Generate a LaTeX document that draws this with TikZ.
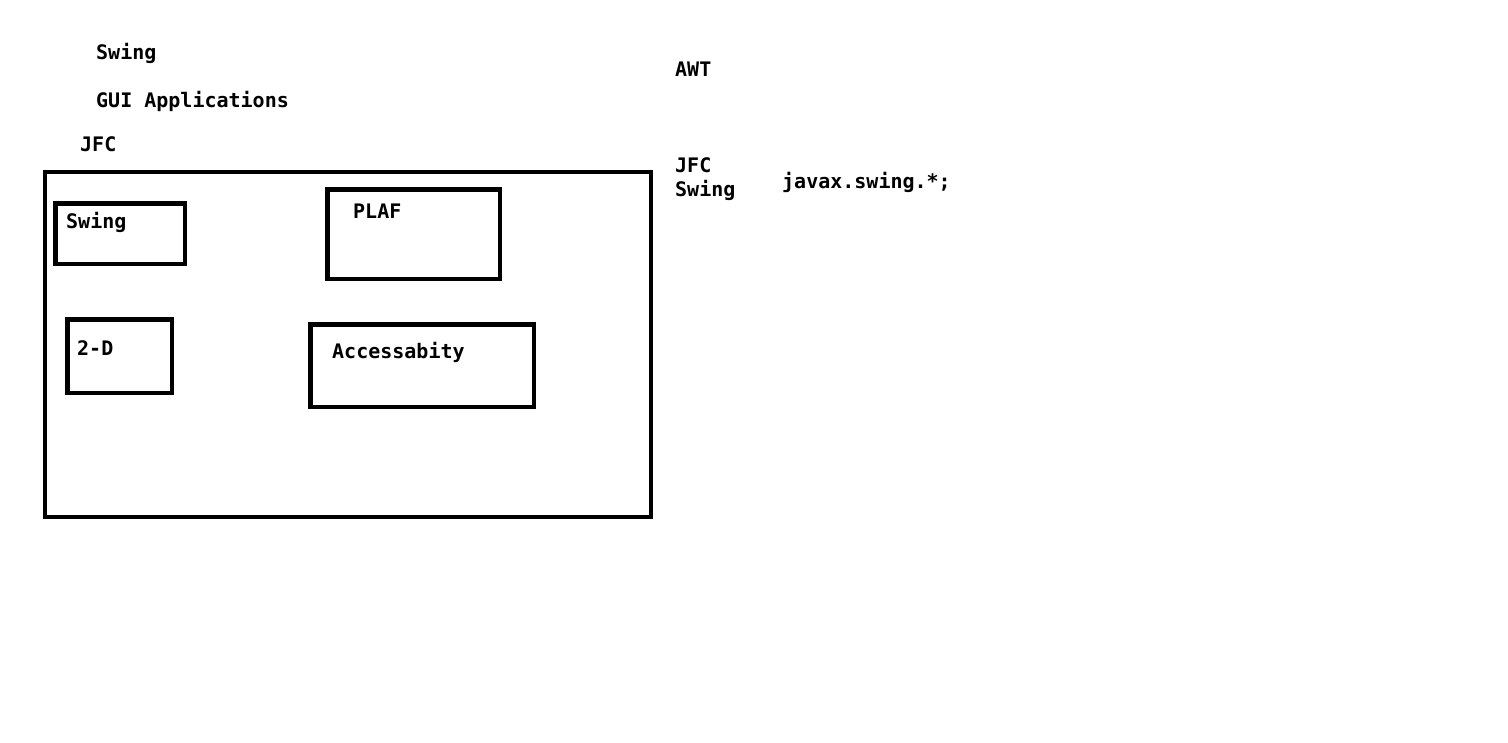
\documentclass[tikz,border=0pt]{standalone}
\usepackage{fontspec}
\setmonofont{DejaVu Sans Mono}
\begin{document}
\begin{tikzpicture}[x=1pt,y=-1pt,
  txt/.style={anchor=base west,inner sep=0pt,font=\ttfamily\bfseries\fontsize{20}{23}\selectfont},
  frame/.style={draw,line width=4.5pt,inner sep=0pt,outer sep=0pt,anchor=north west}]
\useasboundingbox[fill=white] (0,0) rectangle (1508,742);
% boxes
\node[frame,minimum width=606pt,minimum height=345pt] (outer) at (45,172) {};
\node[frame,minimum width=129.5pt,minimum height=60.5pt] (bswing) at (55.3,203.3) {};
\node[frame,minimum width=172.5pt,minimum height=89.5pt] (bplaf) at (327.3,189.3) {};
\node[frame,minimum width=104.5pt,minimum height=73.5pt] (b2d) at (67.3,319.3) {};
\node[frame,minimum width=223.5pt,minimum height=82.5pt] (bacc) at (310.3,324.3) {};
% texts
\node[txt] (t1) at (96,59) {Swing};
\node[txt] (t2) at (96,107) {GUI Applications};
\node[txt] (t3) at (80,151) {JFC};
\node[txt] (t4) at (675,76) {AWT};
\node[txt] (t5) at (675,172) {JFC};
\node[txt] (t6) at (675,196) {Swing};
\node[txt] (t7) at (782,188) {javax.swing.*;};
\node[txt] (t8) at (66,228) {Swing};
\node[txt] (t9) at (353,218) {PLAF};
\node[txt] (t10) at (77,355) {2-D};
\node[txt] (t11) at (332,358) {Accessabity};
\end{tikzpicture}
\end{document}
